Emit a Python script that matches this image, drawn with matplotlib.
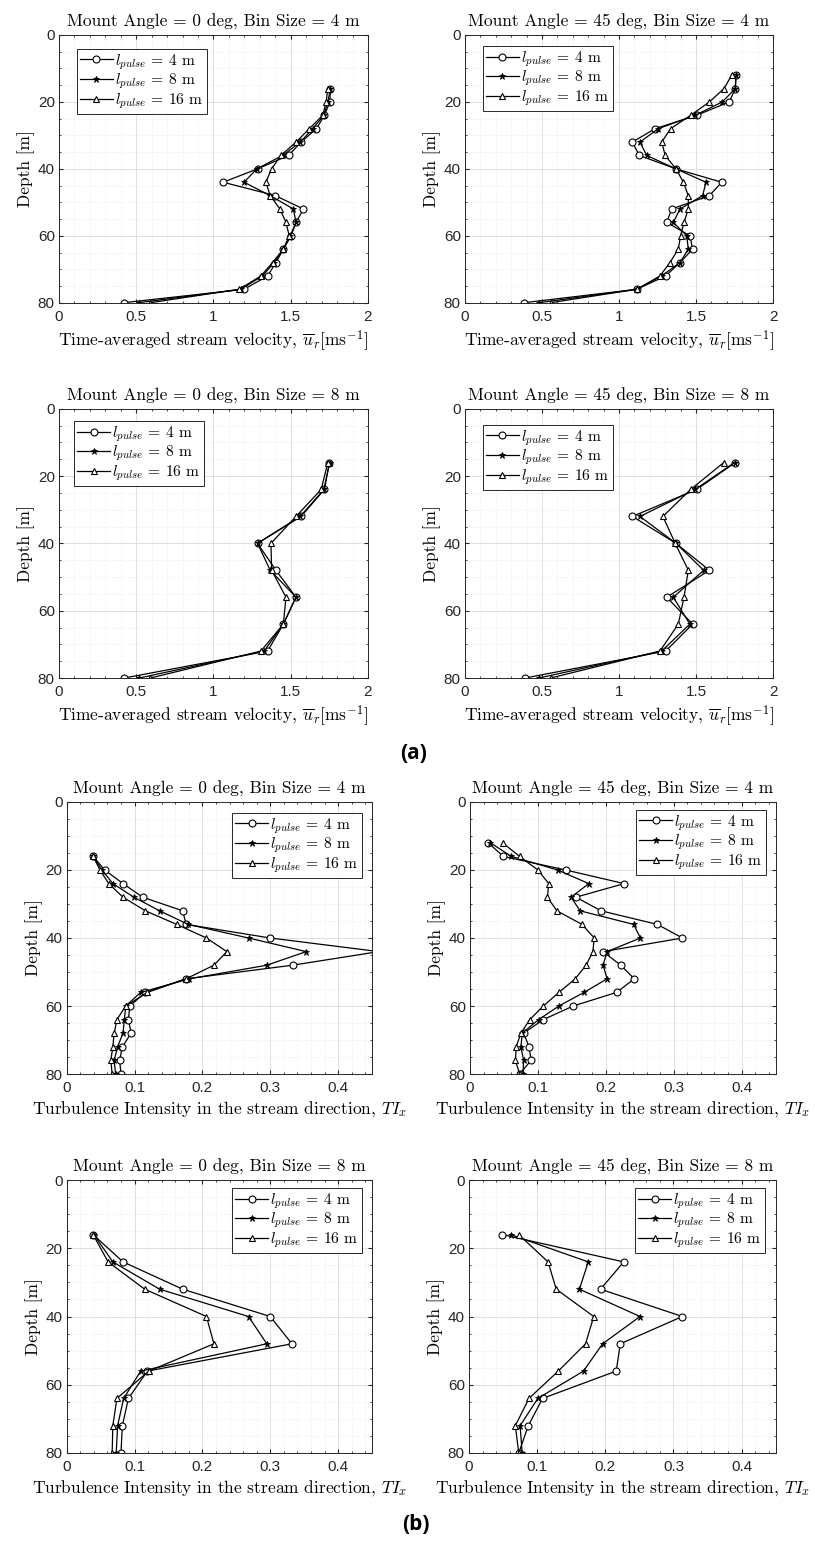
import matplotlib
matplotlib.use("Agg")
import matplotlib.pyplot as plt
from matplotlib.ticker import MultipleLocator, FormatStrFormatter

plt.rcParams['font.family'] = ['Liberation Sans', 'DejaVu Sans']
plt.rcParams['mathtext.fontset'] = 'cm'
plt.rcParams['axes.unicode_minus'] = False

# depths [m]
depth_0_4 = [16, 20, 24, 28, 32, 36, 40, 44, 48, 52, 56, 60, 64, 68, 72, 76, 80]
depth_45_4 = [12, 16, 20, 24, 28, 32, 36, 40, 44, 48, 52, 56, 60, 64, 68, 72, 76, 80]
depth_8 = [16, 24, 32, 40, 48, 56, 64, 72, 80]

pulse_labels = [r'$l_{pulse}$ = 4 m', r'$l_{pulse}$ = 8 m', r'$l_{pulse}$ = 16 m']

# time-averaged stream velocity, mount 0 deg, bin 4 m
u_0_4_p4 = [1.757, 1.753, 1.718, 1.666, 1.567, 1.486, 1.285, 1.062, 1.40, 1.582, 1.534, 1.502, 1.452, 1.404, 1.35, 1.198, 0.418]
u_0_4_p8 = [1.757, 1.74, 1.714, 1.642, 1.562, 1.447, 1.28, 1.198, 1.367, 1.517, 1.534, 1.497, 1.452, 1.393, 1.317, 1.177, 0.516]
u_0_4_p16 = [1.74, 1.729, 1.707, 1.62, 1.534, 1.436, 1.376, 1.339, 1.367, 1.43, 1.469, 1.49, 1.452, 1.382, 1.307, 1.166, 0.592]

# mount 45 deg, bin 4 m
u_45_4_p4 = [1.76, 1.755, 1.716, 1.504, 1.234, 1.087, 1.132, 1.37, 1.667, 1.587, 1.342, 1.31, 1.461, 1.478, 1.396, 1.303, 1.115, 0.383]
u_45_4_p8 = [1.76, 1.755, 1.671, 1.494, 1.255, 1.136, 1.18, 1.37, 1.565, 1.543, 1.396, 1.353, 1.44, 1.45, 1.396, 1.277, 1.115, 0.48]
u_45_4_p16 = [1.732, 1.682, 1.587, 1.465, 1.335, 1.277, 1.30, 1.37, 1.418, 1.45, 1.45, 1.422, 1.40, 1.385, 1.331, 1.266, 1.115, 0.556]

# mount 0 deg, bin 8 m
u_0_8_p4 = [1.75, 1.718, 1.567, 1.285, 1.404, 1.534, 1.452, 1.35, 0.423]
u_0_8_p8 = [1.752, 1.714, 1.562, 1.285, 1.367, 1.534, 1.452, 1.328, 0.52]
u_0_8_p16 = [1.74, 1.697, 1.534, 1.372, 1.376, 1.469, 1.452, 1.307, 0.592]

# mount 45 deg, bin 8 m
u_45_8_p4 = [1.755, 1.504, 1.087, 1.37, 1.587, 1.31, 1.478, 1.303, 0.39]
u_45_8_p8 = [1.75, 1.494, 1.136, 1.37, 1.55, 1.353, 1.46, 1.277, 0.48]
u_45_8_p16 = [1.68, 1.465, 1.285, 1.365, 1.45, 1.422, 1.385, 1.266, 0.556]

# turbulence intensity, mount 0 deg, bin 4 m
ti_0_4_p4 = [0.039, 0.056, 0.083, 0.112, 0.171, 0.176, 0.30, 0.46, 0.333, 0.176, 0.116, 0.093, 0.091, 0.095, 0.082, 0.078, 0.080]
ti_0_4_p8 = [0.039, 0.052, 0.068, 0.099, 0.137, 0.179, 0.268, 0.353, 0.295, 0.181, 0.109, 0.087, 0.085, 0.083, 0.075, 0.070, 0.072]
ti_0_4_p16 = [0.039, 0.049, 0.062, 0.083, 0.116, 0.162, 0.206, 0.236, 0.217, 0.176, 0.119, 0.087, 0.074, 0.070, 0.068, 0.065, 0.067]

# mount 45 deg, bin 4 m
ti_45_4_p4 = [0.027, 0.049, 0.141, 0.227, 0.156, 0.193, 0.276, 0.313, 0.196, 0.222, 0.242, 0.216, 0.152, 0.108, 0.079, 0.087, 0.090, 0.073]
ti_45_4_p8 = [0.030, 0.061, 0.129, 0.175, 0.149, 0.162, 0.241, 0.251, 0.202, 0.196, 0.202, 0.168, 0.131, 0.101, 0.077, 0.075, 0.079, 0.078]
ti_45_4_p16 = [0.048, 0.073, 0.100, 0.116, 0.114, 0.128, 0.165, 0.183, 0.181, 0.171, 0.155, 0.131, 0.108, 0.088, 0.075, 0.068, 0.067, 0.073]

# mount 0 deg, bin 8 m
ti_0_8_p4 = [0.039, 0.083, 0.171, 0.30, 0.332, 0.119, 0.091, 0.082, 0.080]
ti_0_8_p8 = [0.040, 0.068, 0.137, 0.268, 0.295, 0.109, 0.084, 0.075, 0.073]
ti_0_8_p16 = [0.039, 0.061, 0.115, 0.206, 0.217, 0.121, 0.074, 0.068, 0.067]

# mount 45 deg, bin 8 m
ti_45_8_p4 = [0.049, 0.227, 0.193, 0.313, 0.222, 0.216, 0.108, 0.087, 0.073]
ti_45_8_p8 = [0.061, 0.175, 0.162, 0.251, 0.196, 0.168, 0.101, 0.075, 0.078]
ti_45_8_p16 = [0.073, 0.116, 0.128, 0.183, 0.171, 0.131, 0.088, 0.068, 0.073]

W, H = 815, 1542
fig = plt.figure(figsize=(W / 100, H / 100), dpi=100)


def add_ax(l, r, t, b):
    return fig.add_axes([l / W, 1 - b / H, (r - l) / W, (b - t) / H])


def style(ax, title, xlabel, xmax, xmajor, xminor):
    ax.set_xlim(0, xmax)
    ax.set_ylim(80, 0)
    ax.xaxis.set_major_locator(MultipleLocator(xmajor))
    ax.xaxis.set_minor_locator(MultipleLocator(xminor))
    ax.xaxis.set_major_formatter(FormatStrFormatter('%g'))
    ax.yaxis.set_major_locator(MultipleLocator(20))
    ax.yaxis.set_minor_locator(MultipleLocator(5))
    ax.grid(which='major', color='#dedede', lw=0.7)
    ax.grid(which='minor', color='#e8e8e8', lw=0.6, ls=':')
    ax.set_axisbelow(True)
    ax.tick_params(which='both', direction='in', labelsize=11, colors='#262626',
                   top=True, right=True)
    ax.tick_params(axis='x', pad=5)
    ax.tick_params(axis='y', pad=3)
    ax.tick_params(which='major', length=3)
    ax.tick_params(which='minor', length=1.5)
    for sp in ax.spines.values():
        sp.set_color('#262626')
        sp.set_linewidth(0.7)
    ax.set_title(title, fontfamily='cmr10', fontsize=12.5, pad=6)
    ax.set_xlabel(xlabel, fontfamily='cmr10', fontsize=12.5, labelpad=3)
    ax.set_ylabel('Depth [m]', fontfamily='cmr10', fontsize=12.5, labelpad=2)


def draw(ax, depth, s4, s8, s16, loc, anchor):
    ax.plot(s4, depth, color='k', lw=0.9, marker='o', ms=5, mfc='white', mec='k', mew=0.8,
            label=pulse_labels[0])
    ax.plot(s8, depth, color='k', lw=0.9, marker='*', ms=4.5, mfc='k', mec='k', mew=0.6,
            label=pulse_labels[1])
    ax.plot(s16, depth, color='k', lw=0.9, marker='^', ms=5, mfc='white', mec='k', mew=0.8,
            label=pulse_labels[2])
    leg = ax.legend(loc=loc, bbox_to_anchor=anchor, borderaxespad=0, fancybox=False,
                    edgecolor='#262626', framealpha=1, handlelength=2.1, handletextpad=0.15,
                    labelspacing=0.0, borderpad=0.2,
                    prop={'family': 'cmr10', 'size': 11.2})
    leg.get_frame().set_linewidth(0.7)


vel_label = r'Time-averaged stream velocity, $\overline{u}_r[\mathrm{ms}^{-1}]$'
ti_label = r'Turbulence Intensity in the stream direction, $TI_x$'

ax1 = add_ax(59, 368, 35, 302.7)
draw(ax1, depth_0_4, u_0_4_p4, u_0_4_p8, u_0_4_p16, 'upper left', (0.058, 0.948))
style(ax1, 'Mount Angle = 0 deg, Bin Size = 4 m', vel_label, 2, 0.5, 0.1)

ax2 = add_ax(465, 773, 35, 302.7)
draw(ax2, depth_45_4, u_45_4_p4, u_45_4_p8, u_45_4_p16, 'upper left', (0.058, 0.959))
style(ax2, 'Mount Angle = 45 deg, Bin Size = 4 m', vel_label, 2, 0.5, 0.1)

ax3 = add_ax(59, 368, 408.7, 678)
draw(ax3, depth_8, u_0_8_p4, u_0_8_p8, u_0_8_p16, 'upper left', (0.049, 0.954))
style(ax3, 'Mount Angle = 0 deg, Bin Size = 8 m', vel_label, 2, 0.5, 0.1)

ax4 = add_ax(465, 773, 408.7, 678)
draw(ax4, depth_8, u_45_8_p4, u_45_8_p8, u_45_8_p16, 'upper left', (0.058, 0.94))
style(ax4, 'Mount Angle = 45 deg, Bin Size = 8 m', vel_label, 2, 0.5, 0.1)

ax5 = add_ax(66.7, 372, 802, 1074)
draw(ax5, depth_0_4, ti_0_4_p4, ti_0_4_p8, ti_0_4_p16, 'upper right', (0.967, 0.96))
style(ax5, 'Mount Angle = 0 deg, Bin Size = 4 m', ti_label, 0.45, 0.1, 0.02)

ax6 = add_ax(470, 775.5, 802, 1074)
draw(ax6, depth_45_4, ti_45_4_p4, ti_45_4_p8, ti_45_4_p16, 'upper right', (0.969, 0.971))
style(ax6, 'Mount Angle = 45 deg, Bin Size = 4 m', ti_label, 0.45, 0.1, 0.02)

ax7 = add_ax(66.7, 372, 1180, 1453)
draw(ax7, depth_8, ti_0_8_p4, ti_0_8_p8, ti_0_8_p16, 'upper right', (0.967, 0.97))
style(ax7, 'Mount Angle = 0 deg, Bin Size = 8 m', ti_label, 0.45, 0.1, 0.02)

ax8 = add_ax(469, 775.7, 1180, 1453)
draw(ax8, depth_8, ti_45_8_p4, ti_45_8_p8, ti_45_8_p16, 'upper right', (0.965, 0.97))
style(ax8, 'Mount Angle = 45 deg, Bin Size = 8 m', ti_label, 0.45, 0.1, 0.02)

fig.text(414 / W, 1 - 753 / H, '(a)', ha='center', va='center', fontsize=15,
         fontweight='bold', fontfamily='Open Sans')
fig.text(416 / W, 1 - 1524 / H, '(b)', ha='center', va='center', fontsize=15,
         fontweight='bold', fontfamily='Open Sans')

fig.savefig('out.png', dpi=100, facecolor='white')
